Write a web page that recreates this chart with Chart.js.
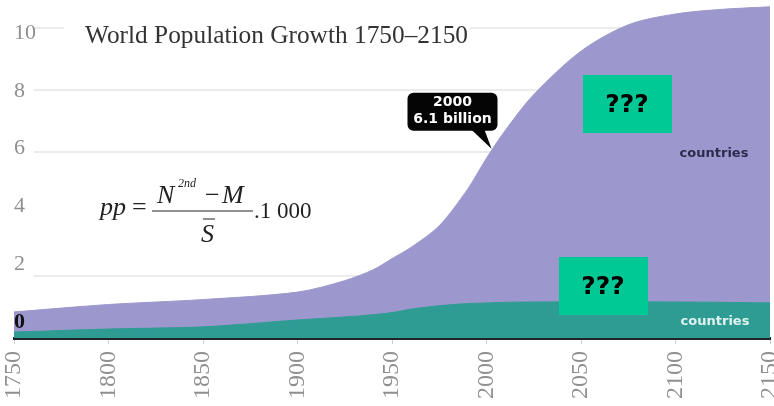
<!DOCTYPE html>
<html>
<head>
<meta charset="utf-8">
<script src="https://cdn.jsdelivr.net/npm/chart.js@4.4.1/dist/chart.umd.min.js"></script>
<style>
html, body { margin: 0; padding: 0; background: #fff; }
#wrap { position: relative; width: 774px; height: 406px; }
</style>
</head>
<body>
<div id="wrap"><canvas id="chart"></canvas></div>
<script>
// population in billions
const years = [1750, 1800, 1850, 1900, 1925, 1940, 1950, 1960, 1975, 1990, 2000, 2010, 2025, 2050, 2075, 2100, 2125, 2150];
const totalPop = [0.84, 1.08, 1.24, 1.48, 1.85, 2.2, 2.56, 2.92, 3.62, 4.8, 5.8, 6.7, 7.85, 9.25, 10.1, 10.45, 10.6, 10.68];
const developedPop = [0.19, 0.29, 0.36, 0.58, 0.68, 0.75, 0.82, 0.93, 1.04, 1.11, 1.13, 1.15, 1.16, 1.17, 1.17, 1.16, 1.15, 1.13];

const yearTicks = [1750, 1800, 1850, 1900, 1950, 2000, 2050, 2100, 2150];
const popTicks = [0, 2, 4, 6, 8, 10];

const chartTitle = 'World Population Growth 1750\u20132150';
const callout = { year: 2000, value: 6.1, lines: ['2000', '6.1 billion'] };

const purple = '#9c98cd';
const teal = '#2f9c93';

function points(vals) {
    return years.map((y, i) => ({ x: y, y: vals[i] }));
}

const overlays = {
    id: 'overlays',
    beforeDatasetsDraw(chart) {
        const ctx = chart.ctx;
        ctx.save();
        ctx.fillStyle = '#fff';
        // white behind the y labels, title and formula (hides grid there)
        ctx.fillRect(0, 0, 34, 300);
        ctx.fillRect(64, 12, 406, 34);
        ctx.fillRect(34, 165, 430, 95);
        ctx.restore();
    },
    afterDraw(chart) {
        const ctx = chart.ctx;
        const xs = chart.scales.x, ys = chart.scales.y;
        ctx.save();

        // title
        ctx.fillStyle = '#333';
        ctx.font = '23px "Liberation Serif", serif';
        ctx.textBaseline = 'alphabetic';
        ctx.textAlign = 'left';
        const tw = ctx.measureText(chartTitle).width;
        ctx.save();
        ctx.translate(85, 43);
        ctx.scale(383 / tw, 1.05);
        ctx.fillText(chartTitle, 0, 0);
        ctx.restore();

        // formula
        ctx.fillStyle = '#222';
        ctx.font = 'italic 26px "Liberation Serif", serif';
        ctx.fillText('pp', 100, 215);
        ctx.font = '26px "Liberation Serif", serif';
        ctx.fillText('=', 132, 215);
        ctx.font = 'italic 26px "Liberation Serif", serif';
        ctx.fillText('N', 157, 203);
        ctx.font = 'italic 12px "Liberation Serif", serif';
        ctx.fillText('2nd', 178, 187);
        ctx.font = '26px "Liberation Serif", serif';
        ctx.fillText('\u2212', 205, 203);
        ctx.font = 'italic 26px "Liberation Serif", serif';
        ctx.fillText('M', 222, 203);
        ctx.fillText('S', 201, 242);
        ctx.strokeStyle = '#222';
        ctx.lineWidth = 1.2;
        ctx.beginPath();
        ctx.moveTo(152, 211); ctx.lineTo(253, 211);
        ctx.moveTo(203, 219); ctx.lineTo(215, 219);
        ctx.stroke();
        ctx.font = '23px "Liberation Serif", serif';
        ctx.fillText('.1 000', 254, 218);

        // callout bubble pointing at the 2000 value
        const tx = xs.getPixelForValue(callout.year) + 5;
        const ty = ys.getPixelForValue(callout.value);
        const bx = tx - 84, by = ty - 56, bw = 90, bh = 38;
        ctx.fillStyle = '#050505';
        ctx.beginPath();
        ctx.roundRect(bx, by, bw, bh, 6);
        ctx.fill();
        ctx.beginPath();
        ctx.moveTo(tx - 20, by + bh - 1);
        ctx.lineTo(tx - 7, by + bh - 1);
        ctx.lineTo(tx, ty);
        ctx.closePath();
        ctx.fill();
        ctx.fillStyle = '#fff';
        ctx.textAlign = 'center';
        ctx.textBaseline = 'middle';
        ctx.font = 'bold 14px "DejaVu Sans", sans-serif';
        ctx.fillText(callout.lines[0], bx + bw / 2, by + 10);
        ctx.fillText(callout.lines[1], bx + bw / 2, by + 27);

        // series labels
        ctx.font = 'bold 13px "DejaVu Sans", sans-serif';
        ctx.fillStyle = '#2b2b4d';
        ctx.fillText('countries', 714, 154);
        ctx.fillStyle = '#dff3f1';
        ctx.fillText('countries', 715, 322);

        // masked label boxes
        ctx.fillStyle = '#00c995';
        ctx.fillRect(583, 75, 89, 58);
        ctx.fillRect(559, 257, 89, 58);
        ctx.fillStyle = '#000';
        ctx.font = 'bold 25px "DejaVu Sans", sans-serif';
        ctx.fillText('???', 627, 105);
        ctx.fillText('???', 603, 287);

        ctx.restore();
    }
};

new Chart(document.getElementById('chart'), {
    type: 'line',
    data: {
        datasets: [
            {
                label: 'More developed countries',
                data: points(developedPop),
                backgroundColor: teal,
                borderColor: teal,
                borderWidth: 1,
                fill: 'origin',
                pointRadius: 0,
                tension: 0.3
            },
            {
                label: 'Less developed countries',
                data: points(totalPop),
                backgroundColor: purple,
                borderColor: purple,
                borderWidth: 1,
                fill: 'origin',
                pointRadius: 0,
                tension: 0.3
            }
        ]
    },
    options: {
        responsive: true,
        maintainAspectRatio: false,
        animation: false,
        layout: { padding: { top: 0, bottom: 0, left: 0, right: 0 } },
        plugins: {
            legend: { display: false },
            tooltip: { enabled: false }
        },
        scales: {
            x: {
                type: 'linear',
                min: 1750,
                max: 2150,
                afterBuildTicks: s => { s.ticks = yearTicks.map(v => ({ value: v })); },
                afterFit: s => { s.paddingLeft = 14; s.paddingRight = 4; },
                grid: { drawOnChartArea: false, tickLength: 6, color: '#cfcfcf' },
                border: { color: '#1c2626', width: 3 },
                ticks: {
                    autoSkip: false,
                    minRotation: 90,
                    maxRotation: 90,
                    padding: 7,
                    color: '#8f8f8f',
                    font: { family: '"Liberation Serif", serif', size: 24 },
                    callback: v => String(v)
                }
            },
            y: {
                min: 0,
                max: 10.9,
                afterBuildTicks: s => { s.ticks = popTicks.map(v => ({ value: v })); },
                afterFit: s => { s.paddingTop = 0; s.paddingBottom = 0; },
                grid: { color: '#ebebeb', lineWidth: 2, drawTicks: false },
                border: { display: false },
                ticks: { display: false }
            },
            yl: {
                position: 'left',
                min: -0.55,
                max: 11.14,
                afterBuildTicks: s => { s.ticks = popTicks.map(v => ({ value: v })); },
                afterFit: s => { s.paddingTop = 0; s.paddingBottom = 0; },
                grid: { display: false },
                border: { display: false },
                ticks: {
                    mirror: true,
                    padding: 0,
                    z: 1,
                    autoSkip: false,
                    color: c => (c.tick && c.tick.value === 0) ? '#111' : '#8f8f8f',
                    font: c => ({
                        family: '"Liberation Serif", serif',
                        size: 22,
                        weight: (c.tick && c.tick.value === 0) ? 'bold' : 'normal'
                    }),
                    callback: v => String(v)
                }
            }
        }
    },
    plugins: [overlays]
});
</script>
</body>
</html>
